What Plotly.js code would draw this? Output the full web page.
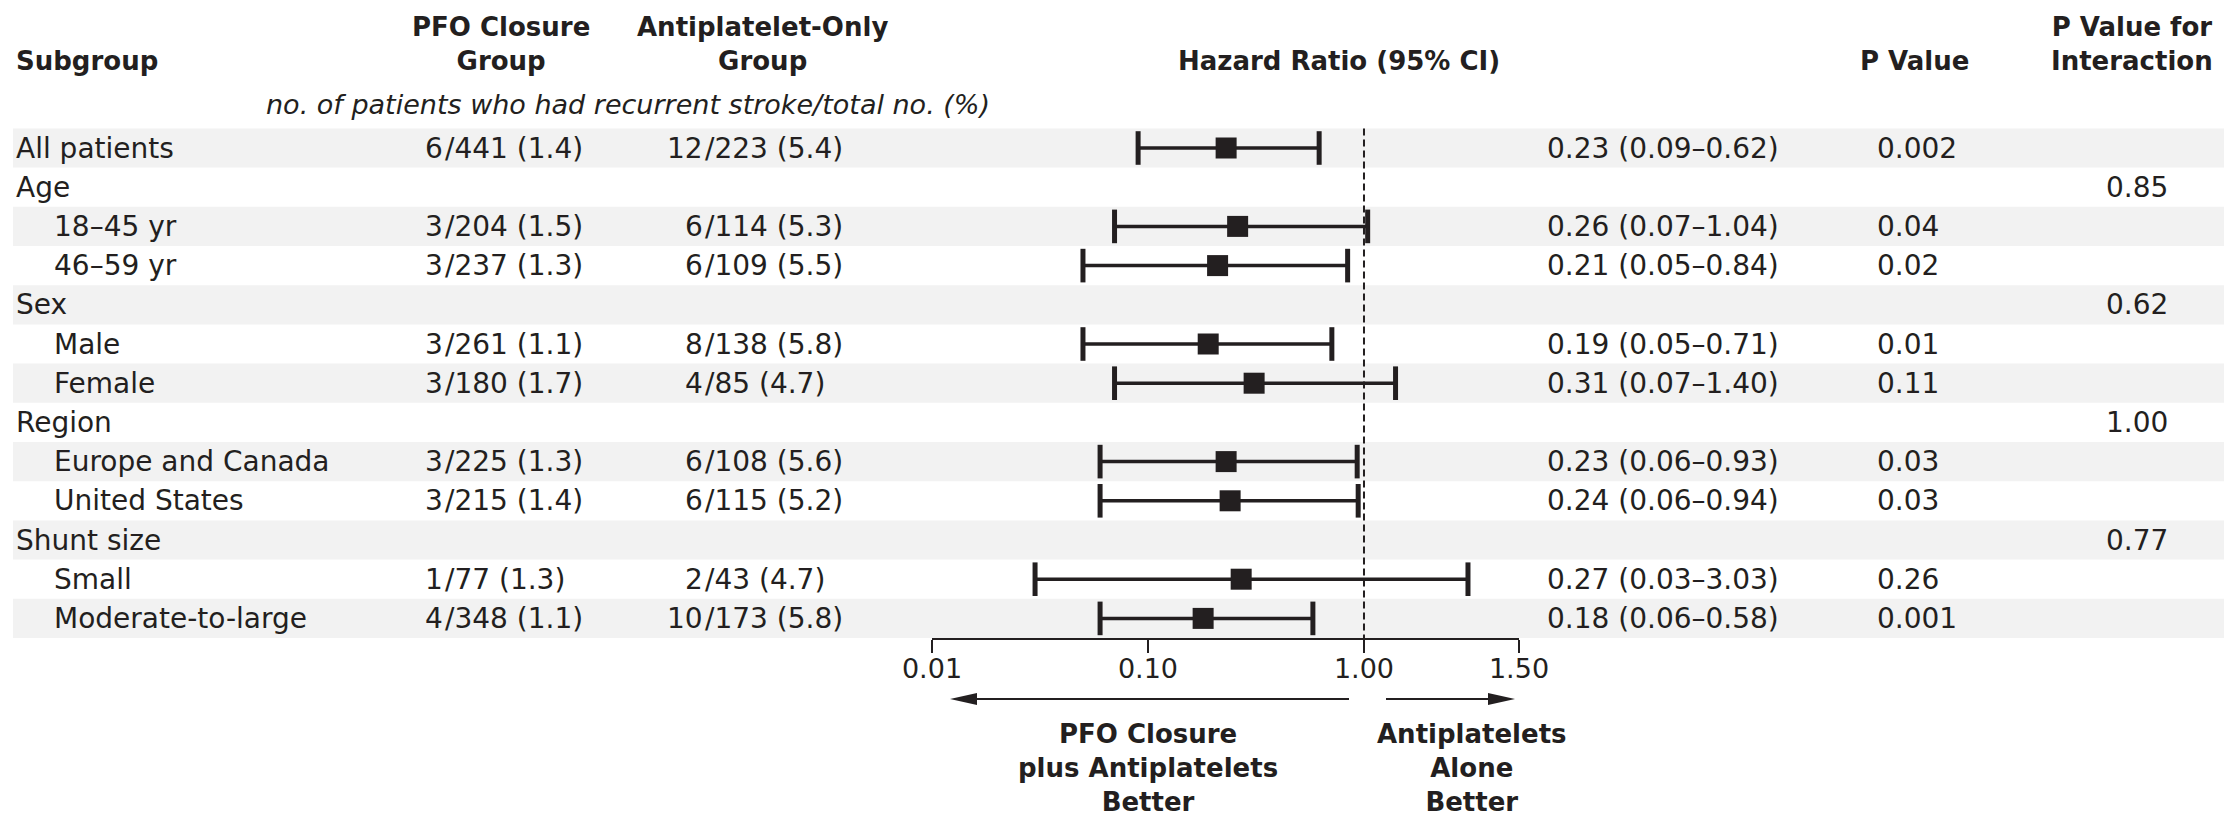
<!DOCTYPE html>
<html>
<head>
<meta charset="utf-8">
<script src="https://cdn.plot.ly/plotly-3.0.1.min.js"></script>
<style>html,body{margin:0;padding:0;background:#fff;}</style>
</head>
<body>
<div id="chart" style="width:2224px;height:819px;"></div>
<script>
// ---------------- data ----------------
const subgroups = ["All patients", "Age", "18\u201345 yr", "46\u201359 yr", "Sex", "Male", "Female",
  "Region", "Europe and Canada", "United States", "Shunt size", "Small", "Moderate-to-large"];
const indentLevel = [0, 0, 1, 1, 0, 1, 1, 0, 1, 1, 0, 1, 1];
const pfoClosure = ["6/441 (1.4)", "", "3/204 (1.5)", "3/237 (1.3)", "", "3/261 (1.1)", "3/180 (1.7)",
  "", "3/225 (1.3)", "3/215 (1.4)", "", "1/77 (1.3)", "4/348 (1.1)"];
const antiplateletOnly = ["12/223 (5.4)", "", "6/114 (5.3)", "6/109 (5.5)", "", "8/138 (5.8)", "4/85 (4.7)",
  "", "6/108 (5.6)", "6/115 (5.2)", "", "2/43 (4.7)", "10/173 (5.8)"];
const hazardRatio = [0.23, null, 0.26, 0.21, null, 0.19, 0.31, null, 0.23, 0.24, null, 0.27, 0.18];
const ciLower     = [0.09, null, 0.07, 0.05, null, 0.05, 0.07, null, 0.06, 0.06, null, 0.03, 0.06];
const ciUpper     = [0.62, null, 1.04, 0.84, null, 0.71, 1.40, null, 0.93, 0.94, null, 3.03, 0.58];
const pValue = ["0.002", "", "0.04", "0.02", "", "0.01", "0.11", "", "0.03", "0.03", "", "0.26", "0.001"];
const pInteraction = ["", "0.85", "", "", "0.62", "", "", "1.00", "", "", "0.77", "", ""];
// x-axis ticks as printed in the reference (the "1.50" tick is drawn at the far end of the axis there)
const tickLabels = ["0.01", "0.10", "1.00", "1.50"];
const tickValues = [0.01, 0.1, 1, 5.22];

// ---------------- layout helpers ----------------
const W = 2224, H = 819;
const INK = "#231f20";
const FONT = "DejaVu Sans";
const rowTop = 148, rowPitch = 39.2;
const fx = p => p / W;
const fy = p => 1 - p / H;
const rows = subgroups.map((_, i) => i);

// ---------------- traces ----------------
const lineX = [], lineY = [], capX = [], capY = [], boxX = [], boxY = [];
rows.forEach(i => {
  if (hazardRatio[i] == null) return;
  lineX.push(ciLower[i], ciUpper[i], null); lineY.push(i, i, null);
  capX.push(ciLower[i], ciUpper[i]); capY.push(i, i);
  boxX.push(hazardRatio[i]); boxY.push(i);
});
const traces = [
  {type: "scatter", mode: "lines", x: lineX, y: lineY, line: {color: INK, width: 3.5},
   hoverinfo: "skip", cliponaxis: false},
  {type: "scatter", mode: "markers", x: capX, y: capY, cliponaxis: false, hoverinfo: "skip",
   marker: {symbol: "line-ns", size: 24, color: INK, line: {color: INK, width: 5}}},
  {type: "scatter", mode: "markers", x: boxX, y: boxY, cliponaxis: false,
   marker: {symbol: "square", size: 21, color: INK, line: {width: 0}}}
];

// ---------------- annotations ----------------
const ann = [];
function txt(text, x, y, opts) {
  ann.push(Object.assign({
    text: text, x: x, y: y, xref: "paper", yref: "y", showarrow: false,
    xanchor: "left", yanchor: "middle", borderpad: 0,
    font: {family: FONT, size: 28, color: INK}
  }, opts || {}));
}
rows.forEach(i => {
  txt(subgroups[i], fx(indentLevel[i] ? 53 : 15), i);
  [[pfoClosure[i], 444], [antiplateletOnly[i], 704]].forEach(([s, slashPx]) => {
    if (!s) return;
    const k = s.indexOf("/");
    txt(s.slice(0, k), fx(slashPx), i, {xanchor: "right"});
    txt(s.slice(k), fx(slashPx), i);
  });
  if (hazardRatio[i] != null) {
    txt(hazardRatio[i].toFixed(2) + " (" + ciLower[i].toFixed(2) + "\u2013" + ciUpper[i].toFixed(2) + ")",
        fx(1546), i);
  }
  if (pValue[i]) txt(pValue[i], fx(1876), i);
  if (pInteraction[i]) txt(pInteraction[i], fx(2137), i, {xanchor: "center"});
});
function head(text, xPx, yPx, anchor, size) {
  ann.push({text: text, x: fx(xPx), y: fy(yPx), xref: "paper", yref: "paper", showarrow: false,
    xanchor: anchor, yanchor: "middle", align: "center", borderpad: 0,
    font: {family: FONT, size: size || 26, color: INK, weight: "bold"}});
}
head("Subgroup", 15, 61, "left");
head("PFO Closure<br>Group", 501, 44, "center");
head("Antiplatelet-Only<br>Group", 762, 44, "center");
head("Hazard Ratio (95% CI)", 1339, 61, "center");
head("P Value", 1914, 61, "center");
head("P Value for<br>Interaction", 2132, 44, "center");
head("PFO Closure<br>plus Antiplatelets<br>Better", 1148, 768, "center");
head("Antiplatelets<br>Alone<br>Better", 1472, 768, "center");
ann.push({text: "no. of patients who had recurrent stroke/total no. (%)", x: fx(628), y: fy(105),
  xref: "paper", yref: "paper", showarrow: false, xanchor: "center", yanchor: "middle", borderpad: 0,
  font: {family: FONT, size: 27, color: INK, style: "italic"}});

// ---------------- shapes ----------------
const shapes = [];
rows.forEach(i => {
  if (i % 2 === 0) shapes.push({type: "rect", xref: "paper", yref: "y", x0: fx(13), x1: 1,
    y0: i - 0.5, y1: i + 0.5, fillcolor: "#f2f2f2", line: {width: 0}, layer: "below"});
});
const axisPx = 639;
shapes.push({type: "line", xref: "x", yref: "y", x0: 1, x1: 1, y0: -0.5, y1: (axisPx - rowTop) / rowPitch,
  line: {color: INK, width: 2, dash: "7px,4px"}, layer: "below"});
// direction arrows
const arrowY = 699;
shapes.push({type: "line", xref: "paper", yref: "paper", x0: fx(1349), x1: fx(972), y0: fy(arrowY), y1: fy(arrowY),
  line: {color: INK, width: 2}});
shapes.push({type: "path", xref: "paper", yref: "paper",
  path: `M${fx(950)},${fy(arrowY)} L${fx(977)},${fy(arrowY - 6)} L${fx(977)},${fy(arrowY + 6)} Z`,
  fillcolor: INK, line: {width: 0}});
shapes.push({type: "line", xref: "paper", yref: "paper", x0: fx(1386), x1: fx(1493), y0: fy(arrowY), y1: fy(arrowY),
  line: {color: INK, width: 2}});
shapes.push({type: "path", xref: "paper", yref: "paper",
  path: `M${fx(1515)},${fy(arrowY)} L${fx(1488)},${fy(arrowY - 6)} L${fx(1488)},${fy(arrowY + 6)} Z`,
  fillcolor: INK, line: {width: 0}});

// ---------------- layout ----------------
const layout = {
  width: W, height: H,
  margin: {l: 0, r: 0, t: 0, b: 0, pad: 0},
  paper_bgcolor: "#ffffff", plot_bgcolor: "rgba(0,0,0,0)",
  showlegend: false,
  font: {family: FONT, color: INK},
  xaxis: {
    type: "log", range: [Math.log10(tickValues[0]), Math.log10(tickValues[tickValues.length - 1])],
    domain: [fx(932), fx(1519)], anchor: "free", position: fy(axisPx),
    tickvals: tickValues, ticktext: tickLabels,
    ticks: "outside", ticklen: 13, tickwidth: 2, tickcolor: INK,
    ticklabelstandoff: -7,
    showline: true, linewidth: 2, linecolor: INK,
    showgrid: false, zeroline: false, fixedrange: true,
    tickfont: {family: FONT, size: 27, color: INK}
  },
  yaxis: {
    range: [(H - rowTop) / rowPitch, -rowTop / rowPitch], domain: [0, 1],
    showgrid: false, zeroline: false, showline: false, showticklabels: false, ticks: "",
    fixedrange: true
  },
  shapes: shapes,
  annotations: ann
};

Plotly.newPlot("chart", traces, layout, {staticPlot: true, displayModeBar: false});
</script>
</body>
</html>
